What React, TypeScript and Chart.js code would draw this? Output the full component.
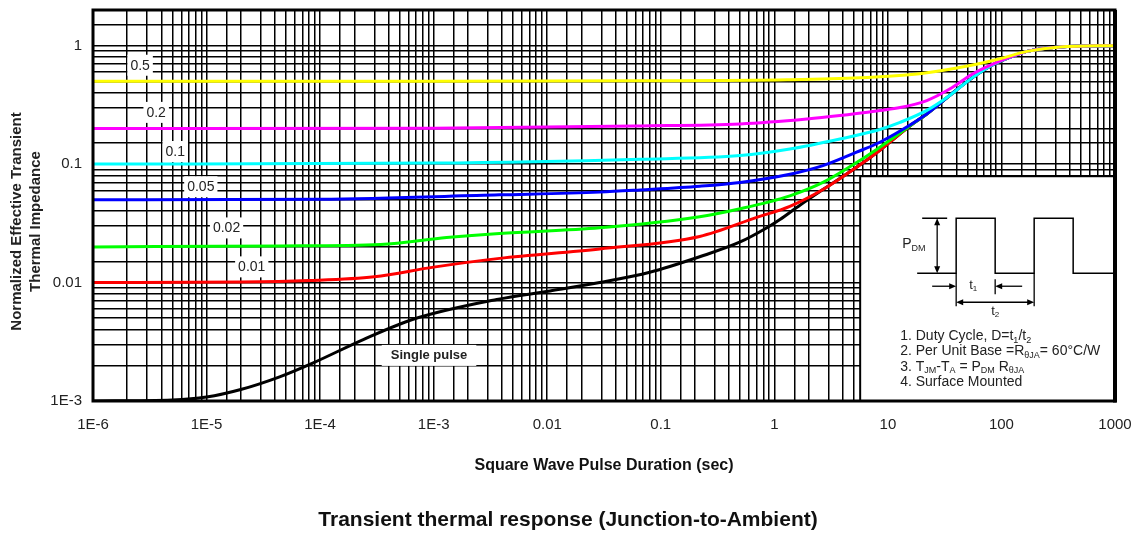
import React, { useEffect, useRef } from 'react';
import { Chart, registerables } from 'chart.js';

Chart.register(...registerables);

const FONT = '"Liberation Sans", Arial, Helvetica, sans-serif';

// ---- axes ----
const xMin = 1e-6;
const xMax = 1000;
const yMin = 1e-3;
const yMax = 2;
const xTickValues = [1e-6, 1e-5, 1e-4, 1e-3, 0.01, 0.1, 1, 10, 100, 1000];
const xTickLabels = ['1E-6', '1E-5', '1E-4', '1E-3', '0.01', '0.1', '1', '10', '100', '1000'];
const yTickValues = [0.001, 0.01, 0.1, 1];
const yTickLabels = ['1E-3', '0.01', '0.1', '1'];

const xTitle = 'Square Wave Pulse Duration (sec)';
const yTitleLines = ['Normalized Effective Transient', 'Thermal Impedance'];
const chartTitle = 'Transient thermal response (Junction-to-Ambient)';

// ---- series: [pulse duration (s), normalized impedance] ----
const seriesNames = ['0.5', '0.2', '0.1', '0.05', '0.02', '0.01', 'Single pulse'];
const seriesColors = ['#FFFF00', '#FF00FF', '#00FFFF', '#0000FF', '#00FF00', '#FF0000', '#000000'];

const d05: [number, number][] = [
  [1e-6, 0.5], [1e-3, 0.5], [0.066, 0.505], [1.3, 0.515], [5.7, 0.535], [19, 0.58],
  [53, 0.68], [97, 0.776], [168, 0.895], [327, 0.975], [1000, 1.0],
];
const d02: [number, number][] = [
  [1e-6, 0.2], [1e-3, 0.201], [0.066, 0.21], [0.5, 0.218], [1.94, 0.24], [3.78, 0.257],
  [8.5, 0.284], [12.8, 0.3], [22, 0.344], [35, 0.43], [56, 0.58], [84, 0.7], [137, 0.84],
  [168, 0.895], [327, 0.975], [1000, 1.0],
];
const d01: [number, number][] = [
  [1e-6, 0.1], [1e-3, 0.102], [0.066, 0.11], [0.5, 0.118], [1.37, 0.134], [3.78, 0.163],
  [8.5, 0.196], [12.8, 0.225], [22, 0.284], [35, 0.38], [56, 0.54], [84, 0.69], [137, 0.84],
  [168, 0.895], [327, 0.975], [1000, 1.0],
];
const d005: [number, number][] = [
  [1e-6, 0.05], [1e-4, 0.0505], [3.8e-3, 0.055], [0.029, 0.058], [0.066, 0.0605], [0.22, 0.065],
  [0.5, 0.07], [1.37, 0.082], [2.68, 0.097], [5.3, 0.126], [8.5, 0.153], [12.8, 0.19],
  [22, 0.265], [30.5, 0.34], [35, 0.38], [56, 0.54], [84, 0.69], [137, 0.84], [168, 0.895],
  [327, 0.975], [1000, 1.0],
];
const d002: [number, number][] = [
  [1e-6, 0.02], [4.4e-5, 0.0204], [3.4e-4, 0.021], [1.3e-3, 0.024], [3.8e-3, 0.026],
  [0.029, 0.029], [0.22, 0.036], [0.5, 0.042], [1.37, 0.054], [2.68, 0.07], [5.3, 0.103],
  [8.5, 0.139], [12.8, 0.183], [15.6, 0.21], [22, 0.265], [30.5, 0.34], [35, 0.38], [56, 0.54],
  [84, 0.69], [137, 0.84], [168, 0.895], [327, 0.975], [1000, 1.0],
];
const d001: [number, number][] = [
  [1e-6, 0.01], [2e-5, 0.0101], [8e-5, 0.0104], [3e-4, 0.0112], [1e-3, 0.0135], [3.8e-3, 0.016],
  [0.029, 0.0192], [0.22, 0.0245], [0.7, 0.0355], [1.37, 0.044], [2.68, 0.061], [5.3, 0.094],
  [8.5, 0.131], [12.8, 0.18], [15.6, 0.21], [22, 0.265], [30.5, 0.34], [35, 0.38], [56, 0.54],
  [84, 0.69], [137, 0.84], [168, 0.895], [327, 0.975], [1000, 1.0],
];
const dSingle: [number, number][] = [
  [1e-6, 0.001], [5e-6, 0.00102], [1e-5, 0.00108], [2e-5, 0.00125], [4.4e-5, 0.0016],
  [8.7e-5, 0.0021], [2.4e-4, 0.0033], [6.6e-4, 0.0049], [3.6e-3, 0.0072], [0.0106, 0.0085],
  [0.029, 0.01], [0.08, 0.0122], [0.22, 0.0165], [0.5, 0.022], [0.86, 0.029], [1.12, 0.034],
  [1.68, 0.045], [2.68, 0.061], [5.3, 0.094], [8.5, 0.131], [12.8, 0.18], [15.6, 0.21],
  [22, 0.265], [30.5, 0.34], [35, 0.38], [56, 0.54], [84, 0.69], [137, 0.84], [168, 0.895],
  [327, 0.975], [1000, 1.0],
];
const seriesData = [d05, d02, d01, d005, d002, d001, dSingle];

// curve label anchors (data space)
const labelT = [2.6e-6, 3.6e-6, 5.3e-6, 8.9e-6, 1.5e-5, 2.5e-5, 9.1e-4];
const labelZ = [0.69, 0.276, 0.129, 0.065, 0.0292, 0.0137, 0.00245];

// inset anchor (data space, top-left corner)
const insetT = 5.7;
const insetZ = 0.079;
const insetNotes: [string, boolean][][] = [
  [['1. Duty Cycle, D=t', false], ['1', true], ['/t', false], ['2', true]],
  [['2. Per Unit Base =R', false], ['θJA', true], ['= 60°C/W', false]],
  [['3. T', false], ['JM', true], ['-T', false], ['A', true], [' = P', false], ['DM', true], [' R', false], ['θJA', true]],
  [['4. Surface Mounted', false]],
];

function matchTick(value: number, values: number[], labels: string[]) {
  const i = values.findIndex((v) => Math.abs(Math.log10(v) - Math.log10(value)) < 1e-6);
  return i >= 0 ? labels[i] : '';
}

function drawRich(ctx: CanvasRenderingContext2D, x: number, y: number, parts: [string, boolean][], size: number) {
  let cx = x;
  ctx.textAlign = 'left';
  ctx.textBaseline = 'middle';
  for (const [t, sub] of parts) {
    const s = sub ? Math.round(size * 0.62) : size;
    ctx.font = `${s}px ${FONT}`;
    ctx.fillText(t, cx, sub ? y + size * 0.28 : y);
    cx += ctx.measureText(t).width;
  }
}

function arrowHead(ctx: CanvasRenderingContext2D, x: number, y: number, dir: 'l' | 'r' | 'u' | 'd') {
  const L = 7;
  const W = 3;
  ctx.beginPath();
  ctx.moveTo(x, y);
  if (dir === 'r') { ctx.lineTo(x - L, y - W); ctx.lineTo(x - L, y + W); }
  if (dir === 'l') { ctx.lineTo(x + L, y - W); ctx.lineTo(x + L, y + W); }
  if (dir === 'u') { ctx.lineTo(x - W, y + L); ctx.lineTo(x + W, y + L); }
  if (dir === 'd') { ctx.lineTo(x - W, y - L); ctx.lineTo(x + W, y - L); }
  ctx.closePath();
  ctx.fill();
}

function line(ctx: CanvasRenderingContext2D, x1: number, y1: number, x2: number, y2: number) {
  ctx.beginPath();
  ctx.moveTo(x1, y1);
  ctx.lineTo(x2, y2);
  ctx.stroke();
}

function drawInset(ctx: CanvasRenderingContext2D, bx: number, by: number, right: number, bottom: number) {
  ctx.save();
  ctx.fillStyle = '#ffffff';
  ctx.fillRect(bx, by, right - bx, bottom - by);
  ctx.strokeStyle = '#000';
  ctx.lineWidth = 2;
  ctx.strokeRect(bx, by, right - bx, bottom - by);

  const top = by + 42;
  const base = by + 97;
  ctx.lineWidth = 1.5;
  ctx.beginPath();
  ctx.moveTo(bx + 57, base);
  ctx.lineTo(bx + 96, base);
  ctx.lineTo(bx + 96, top);
  ctx.lineTo(bx + 135, top);
  ctx.lineTo(bx + 135, base);
  ctx.lineTo(bx + 174, base);
  ctx.lineTo(bx + 174, top);
  ctx.lineTo(bx + 213, top);
  ctx.lineTo(bx + 213, base);
  ctx.lineTo(right, base);
  ctx.stroke();
  line(ctx, bx + 62, top, bx + 87, top);

  ctx.fillStyle = '#000';
  ctx.lineWidth = 1.3;
  line(ctx, bx + 77, top + 3, bx + 77, base - 3);
  arrowHead(ctx, bx + 77, top, 'u');
  arrowHead(ctx, bx + 77, base, 'd');

  line(ctx, bx + 96, base, bx + 96, by + 130);
  line(ctx, bx + 135, by + 103, bx + 135, by + 118);
  line(ctx, bx + 174, base, bx + 174, by + 130);

  const t1y = by + 110;
  line(ctx, bx + 72, t1y, bx + 93, t1y);
  arrowHead(ctx, bx + 96, t1y, 'r');
  line(ctx, bx + 162, t1y, bx + 138, t1y);
  arrowHead(ctx, bx + 135, t1y, 'l');

  const t2y = by + 126;
  line(ctx, bx + 99, t2y, bx + 171, t2y);
  arrowHead(ctx, bx + 96, t2y, 'l');
  arrowHead(ctx, bx + 174, t2y, 'r');

  ctx.fillStyle = '#222';
  drawRich(ctx, bx + 42, by + 68, [['P', false], ['DM', true]], 14);
  drawRich(ctx, bx + 109, t1y - 1, [['t', false], ['1', true]], 13);
  drawRich(ctx, bx + 131, by + 135, [['t', false], ['2', true]], 13);

  insetNotes.forEach((parts, i) => {
    drawRich(ctx, bx + 40, by + 160 + i * 15.3, parts, 14);
  });
  ctx.restore();
}

const decorPlugin = {
  id: 'decor',
  beforeDatasetsDraw(chart: any) {
    const { ctx, chartArea, scales } = chart;
    const bx = scales.x.getPixelForValue(insetT);
    const by = scales.y.getPixelForValue(insetZ);
    drawInset(ctx, bx, by, chartArea.right, chartArea.bottom);
  },
  afterDraw(chart: any) {
    const { ctx, chartArea, scales } = chart;
    ctx.save();
    // plot frame
    ctx.strokeStyle = '#000';
    ctx.lineWidth = 3;
    ctx.strokeRect(chartArea.left, chartArea.top, chartArea.right - chartArea.left, chartArea.bottom - chartArea.top);
    ctx.lineWidth = 4;
    line(ctx, chartArea.right, chartArea.top, chartArea.right, chartArea.bottom + 1.5);

    // curve labels
    ctx.textAlign = 'center';
    ctx.textBaseline = 'middle';
    seriesNames.forEach((name, i) => {
      const px = scales.x.getPixelForValue(labelT[i]);
      const py = scales.y.getPixelForValue(labelZ[i]);
      const bold = i === seriesNames.length - 1;
      ctx.font = `${bold ? 'bold ' : ''}${bold ? 13 : 14}px ${FONT}`;
      const w = ctx.measureText(name).width;
      ctx.fillStyle = '#ffffff';
      ctx.fillRect(px - w / 2 - (bold ? 9 : 3), py - 10, w + (bold ? 18 : 6), 21);
      ctx.fillStyle = '#222';
      ctx.fillText(name, px, py + 1);
    });

    // y axis title (two lines, rotated)
    ctx.font = `bold 15px ${FONT}`;
    ctx.fillStyle = '#222';
    const cy = (chartArea.top + chartArea.bottom) / 2 + 16;
    [17, 36].forEach((xPos, i) => {
      ctx.save();
      ctx.translate(xPos, cy);
      ctx.rotate(-Math.PI / 2);
      ctx.textAlign = 'center';
      ctx.textBaseline = 'middle';
      ctx.fillText(yTitleLines[i], 0, 0);
      ctx.restore();
    });

    // chart title below the axis title
    ctx.font = `bold 21px ${FONT}`;
    ctx.fillStyle = '#111';
    ctx.textAlign = 'center';
    ctx.textBaseline = 'middle';
    ctx.fillText(chartTitle, 568, chart.height - 14);
    ctx.restore();
  },
};

export default function App() {
  const ref = useRef<HTMLCanvasElement | null>(null);

  useEffect(() => {
    if (!ref.current) return;
    const datasets = seriesNames.map((name, i) => ({
      label: name,
      data: seriesData[i].map(([x, y]) => ({ x, y })),
      borderColor: seriesColors[i],
      backgroundColor: seriesColors[i],
      borderWidth: 3,
      pointRadius: 0,
      fill: false,
      cubicInterpolationMode: 'monotone' as const,
    }));

    const chart = new Chart(ref.current, {
      type: 'line',
      data: { datasets },
      options: {
        animation: false,
        responsive: false,
        devicePixelRatio: 1,
        layout: { padding: { left: 0, right: 24, top: 10, bottom: 0 } },
        plugins: {
          legend: { display: false },
          tooltip: { enabled: false },
          title: { display: false },
        },
        scales: {
          x: {
            type: 'logarithmic',
            min: xMin,
            max: xMax,
            border: { display: false },
            grid: { color: '#000', lineWidth: 1.5, drawTicks: false },
            ticks: {
              autoSkip: false,
              maxRotation: 0,
              padding: 15,
              color: '#222',
              font: { family: FONT, size: 15 },
              callback: (v: any) => matchTick(Number(v), xTickValues, xTickLabels),
            },
            title: {
              display: true,
              text: xTitle,
              color: '#111',
              font: { family: FONT, size: 16, weight: 'bold', lineHeight: 1.2 },
              padding: { top: 0, bottom: 59 },
            },
            afterFit: (scale: any) => {
              scale.height = 133;
              scale.paddingLeft = 0;
              scale.paddingRight = 0;
              scale.paddingTop = 0;
              scale.paddingBottom = 0;
            },
          },
          y: {
            type: 'logarithmic',
            min: yMin,
            max: yMax,
            border: { display: false },
            grid: { color: '#000', lineWidth: 1.5, drawTicks: false },
            ticks: {
              autoSkip: false,
              padding: 11,
              color: '#222',
              font: { family: FONT, size: 15 },
              callback: (v: any) => matchTick(Number(v), yTickValues, yTickLabels),
            },
            afterFit: (scale: any) => {
              scale.width = 93;
              scale.paddingLeft = 0;
              scale.paddingRight = 0;
              scale.paddingTop = 0;
              scale.paddingBottom = 0;
            },
          },
        },
      },
      plugins: [decorPlugin],
    });
    return () => chart.destroy();
  }, []);

  return (
    <div style={{ position: 'absolute', left: 0, top: 0, width: 1139, height: 534, background: '#fff' }}>
      <canvas ref={ref} width={1139} height={534} style={{ display: 'block', width: 1139, height: 534 }} />
    </div>
  );
}
